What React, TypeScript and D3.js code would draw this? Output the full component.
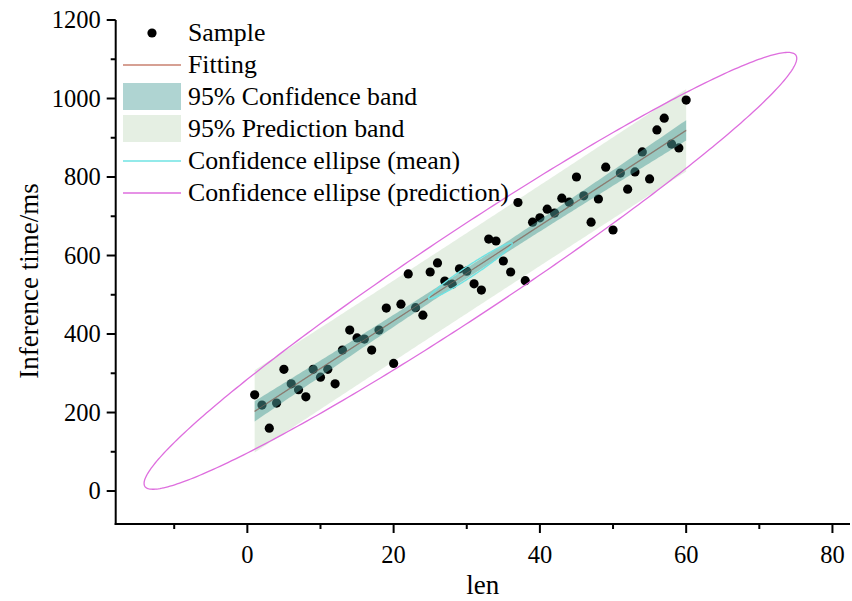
import React from "react";
import * as d3 from "d3";

// Sample: sequence length vs. measured inference time
const lenValues: number[] = d3.range(1, 61);
const inferenceMs: number[] = [
  245, 219, 160, 224, 310, 273, 258, 240, 310, 290,
  310, 273, 359, 410, 390, 387, 359, 410, 466, 325,
  476, 553, 467, 448, 558, 581, 535, 527, 566, 560,
  528, 512, 642, 637, 586, 558, 735, 536, 685, 696,
  718, 708, 746, 736, 800, 752, 685, 744, 825, 665,
  810, 769, 813, 864, 795, 920, 950, 884, 874, 996,
];

const xMajorTicks = [0, 20, 40, 60, 80];
const xMinorTicks = [-10, 10, 30, 50, 70];
const yMajorTicks = [0, 200, 400, 600, 800, 1000, 1200];
const yMinorTicks = [100, 300, 500, 700, 900, 1100];

const legendLabels = [
  "Sample",
  "Fitting",
  "95% Confidence band",
  "95% Prediction band",
  "Confidence ellipse (mean)",
  "Confidence ellipse (prediction)",
];

// Critical values for n = 60 (58 degrees of freedom)
const T_975_58 = 2.00172;
const F_95_2_58 = 3.1559;

const W = 852;
const H = 601;
const FONT = "'Liberation Serif', 'Times New Roman', serif";

const C_FIT = "#c9806f";
const C_CONF = "#4e9f9b";
const C_PRED = "#d3e5d1";
const C_MEAN_ELL = "#6fe3e3";
const C_PRED_ELL = "#de6ede";

export default function App() {
  const x = d3.scaleLinear().domain([-18, 82.4]).range([115.7, 850]);
  const y = d3.scaleLinear().domain([-84, 1200]).range([524, 20]);

  const n = lenValues.length;
  const mx = d3.mean(lenValues)!;
  const my = d3.mean(inferenceMs)!;
  let sxx = 0, syy = 0, sxy = 0;
  for (let i = 0; i < n; i++) {
    const dx = lenValues[i] - mx;
    const dy = inferenceMs[i] - my;
    sxx += dx * dx;
    syy += dy * dy;
    sxy += dx * dy;
  }
  const slope = sxy / sxx;
  const intercept = my - slope * mx;
  let sse = 0;
  for (let i = 0; i < n; i++) {
    const r = inferenceMs[i] - (intercept + slope * lenValues[i]);
    sse += r * r;
  }
  const s = Math.sqrt(sse / (n - 2));
  const fit = (v: number) => intercept + slope * v;

  const xMin = d3.min(lenValues)!;
  const xMax = d3.max(lenValues)!;
  const grid = d3.range(xMin, xMax + 0.001, (xMax - xMin) / 200);

  const half = (v: number, pred: boolean) =>
    T_975_58 * s * Math.sqrt((pred ? 1 : 0) + 1 / n + ((v - mx) * (v - mx)) / sxx);

  const band = (pred: boolean) =>
    d3
      .area<number>()
      .x((v) => x(v))
      .y0((v) => y(fit(v) - half(v, pred)))
      .y1((v) => y(fit(v) + half(v, pred)))(grid) ?? "";

  const fitLine =
    d3
      .line<number>()
      .x((v) => x(v))
      .y((v) => y(fit(v)))([xMin, xMax]) ?? "";

  // Bivariate confidence ellipses from the sample covariance
  const cxx = sxx / (n - 1);
  const cyy = syy / (n - 1);
  const cxy = sxy / (n - 1);
  const a = Math.sqrt(cxx);
  const b = cxy / a;
  const c = Math.sqrt(cyy - b * b);
  const base = (2 * (n - 1)) / (n - 2) * F_95_2_58;
  const kMean = Math.sqrt(base / n);
  const kPred = Math.sqrt(base * (n + 1) / n);
  const angles = d3.range(0, 2 * Math.PI, Math.PI / 180);
  const ellipse = (k: number) =>
    d3
      .line<number>()
      .x((t) => x(mx + k * a * Math.cos(t)))
      .y((t) => y(my + k * (b * Math.cos(t) + c * Math.sin(t))))
      .curve(d3.curveLinearClosed)(angles) ?? "";

  const x0 = x.range()[0];
  const y0 = y.range()[0];

  const legendRowY = (i: number) => 33 + i * 32;
  const symX0 = 123;
  const symX1 = 181;

  return (
    <svg
      width={W}
      height={H}
      style={{ position: "absolute", left: 0, top: 0, background: "#fff" }}
      fontFamily={FONT}
    >
      {/* prediction band, samples, confidence band and fit */}
      <path d={band(true)} fill={C_PRED} fillOpacity={0.6} />
      <path d={fitLine} stroke={C_FIT} strokeWidth={1.3} fill="none" />
      <g>
        {lenValues.map((v, i) => (
          <circle key={i} cx={x(v)} cy={y(inferenceMs[i])} r={4.6} fill="#000" />
        ))}
      </g>
      <path d={band(false)} fill={C_CONF} fillOpacity={0.5} />
      <path d={fitLine} stroke="#8a6a60" strokeWidth={1} strokeOpacity={0.6} fill="none" />
      {/* ellipses */}
      <path d={ellipse(kMean)} stroke={C_MEAN_ELL} strokeWidth={1.4} fill="none" />
      <path d={ellipse(kPred)} stroke={C_PRED_ELL} strokeWidth={1.3} fill="none" />

      {/* axes */}
      <g stroke="#000" strokeWidth={2}>
        <line x1={x0} x2={x0} y1={y.range()[1]} y2={y0 + 1} />
        <line x1={x0 - 1} x2={x.range()[1]} y1={y0} y2={y0} />
        {yMajorTicks.map((t) => (
          <line key={"ym" + t} x1={x0 - 9} x2={x0} y1={y(t)} y2={y(t)} />
        ))}
        {yMinorTicks.map((t) => (
          <line key={"yn" + t} x1={x0 - 5} x2={x0} y1={y(t)} y2={y(t)} />
        ))}
        {xMajorTicks.map((t) => (
          <line key={"xm" + t} x1={x(t)} x2={x(t)} y1={y0} y2={y0 + 9} />
        ))}
        {xMinorTicks.map((t) => (
          <line key={"xn" + t} x1={x(t)} x2={x(t)} y1={y0} y2={y0 + 5} />
        ))}
      </g>
      <g fontSize={24.5} fill="#000">
        {yMajorTicks.map((t) => (
          <text key={"yl" + t} x={x0 - 15} y={y(t) + 8} textAnchor="end">
            {t}
          </text>
        ))}
        {xMajorTicks.map((t) => (
          <text key={"xl" + t} x={x(t)} y={563} textAnchor="middle">
            {t}
          </text>
        ))}
      </g>
      <text x={(x.range()[0] + x.range()[1]) / 2} y={594} fontSize={27} textAnchor="middle">
        len
      </text>
      <text transform="translate(38,281) rotate(-90)" fontSize={27} textAnchor="middle">
        Inference time/ms
      </text>

      {/* legend */}
      <g fontSize={25.8}>
        <circle cx={152} cy={legendRowY(0)} r={4.6} fill="#000" />
        <line x1={symX0} x2={symX1} y1={legendRowY(1)} y2={legendRowY(1)} stroke={C_FIT} strokeWidth={1.3} />
        <rect x={symX0} y={legendRowY(2) - 14} width={symX1 - symX0} height={27} fill={C_CONF} fillOpacity={0.45} />
        <rect x={symX0} y={legendRowY(3) - 14} width={symX1 - symX0} height={27} fill={C_PRED} fillOpacity={0.6} />
        <line x1={symX0} x2={symX1} y1={legendRowY(4)} y2={legendRowY(4)} stroke={C_MEAN_ELL} strokeWidth={1.4} />
        <line x1={symX0} x2={symX1} y1={legendRowY(5)} y2={legendRowY(5)} stroke={C_PRED_ELL} strokeWidth={1.3} />
        {legendLabels.map((l, i) => (
          <text key={l} x={188} y={legendRowY(i) + 8}>
            {l}
          </text>
        ))}
      </g>
    </svg>
  );
}
